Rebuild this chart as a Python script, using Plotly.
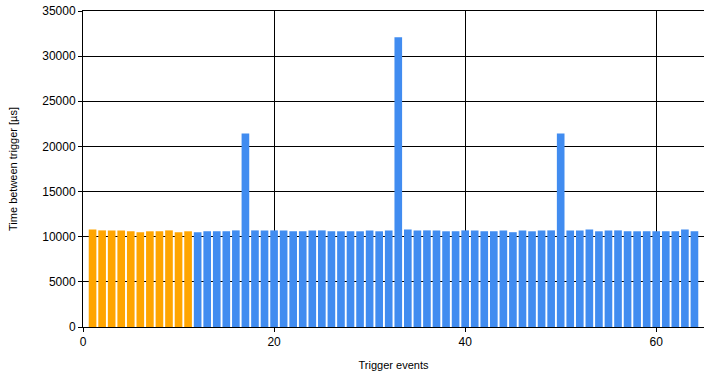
import plotly.graph_objects as go

events = list(range(1, 65))
times = [
    10800, 10700, 10700, 10700, 10600, 10500, 10600, 10600, 10700, 10500, 10600,
    10500, 10600, 10600, 10600, 10700, 21440, 10700, 10700, 10700, 10700, 10600,
    10600, 10700, 10700, 10600, 10600, 10600, 10600, 10700, 10600, 10700, 32100,
    10800, 10700, 10700, 10700, 10600, 10600, 10700, 10700, 10600, 10600, 10700,
    10500, 10700, 10600, 10700, 10700, 21440, 10700, 10700, 10800, 10600, 10700,
    10700, 10600, 10600, 10600, 10600, 10600, 10600, 10800, 10600,
]
n_highlight = 11
colors = ["#FFA500" if i < n_highlight else "#418CF0" for i in range(len(events))]

fig = go.Figure(go.Bar(x=events, y=times, marker=dict(color=colors, line=dict(width=0)), width=0.8))

font = dict(family="Liberation Sans, Arial, sans-serif", size=12, color="black")
fig.update_layout(
    width=704, height=379,
    margin=dict(l=83, r=0, t=11, b=52),
    paper_bgcolor="white", plot_bgcolor="white",
    showlegend=False,
    font=font,
)
fig.update_xaxes(
    range=[0, 65], tickvals=[0, 20, 40, 60],
    showgrid=True, gridcolor="black", gridwidth=1,
    showline=True, linecolor="black", linewidth=1, mirror=True,
    ticks="outside", ticklen=4, tickcolor="black",
    zeroline=False, automargin=False,
    title=dict(text="Trigger events", font=dict(size=11), standoff=12),
)
fig.update_yaxes(
    range=[0, 35000], tickvals=list(range(0, 35001, 5000)), tickformat="d",
    showgrid=True, gridcolor="black", gridwidth=1,
    showline=True, linecolor="black", linewidth=1,
    ticks="outside", ticklen=4, tickcolor="black",
    zeroline=False, automargin=False,
    title=dict(text="Time between trigger [µs]", font=dict(size=11), standoff=22),
)
fig.write_html("out.html", config={"displayModeBar": False},
               post_script="document.body.style.margin='0';")
